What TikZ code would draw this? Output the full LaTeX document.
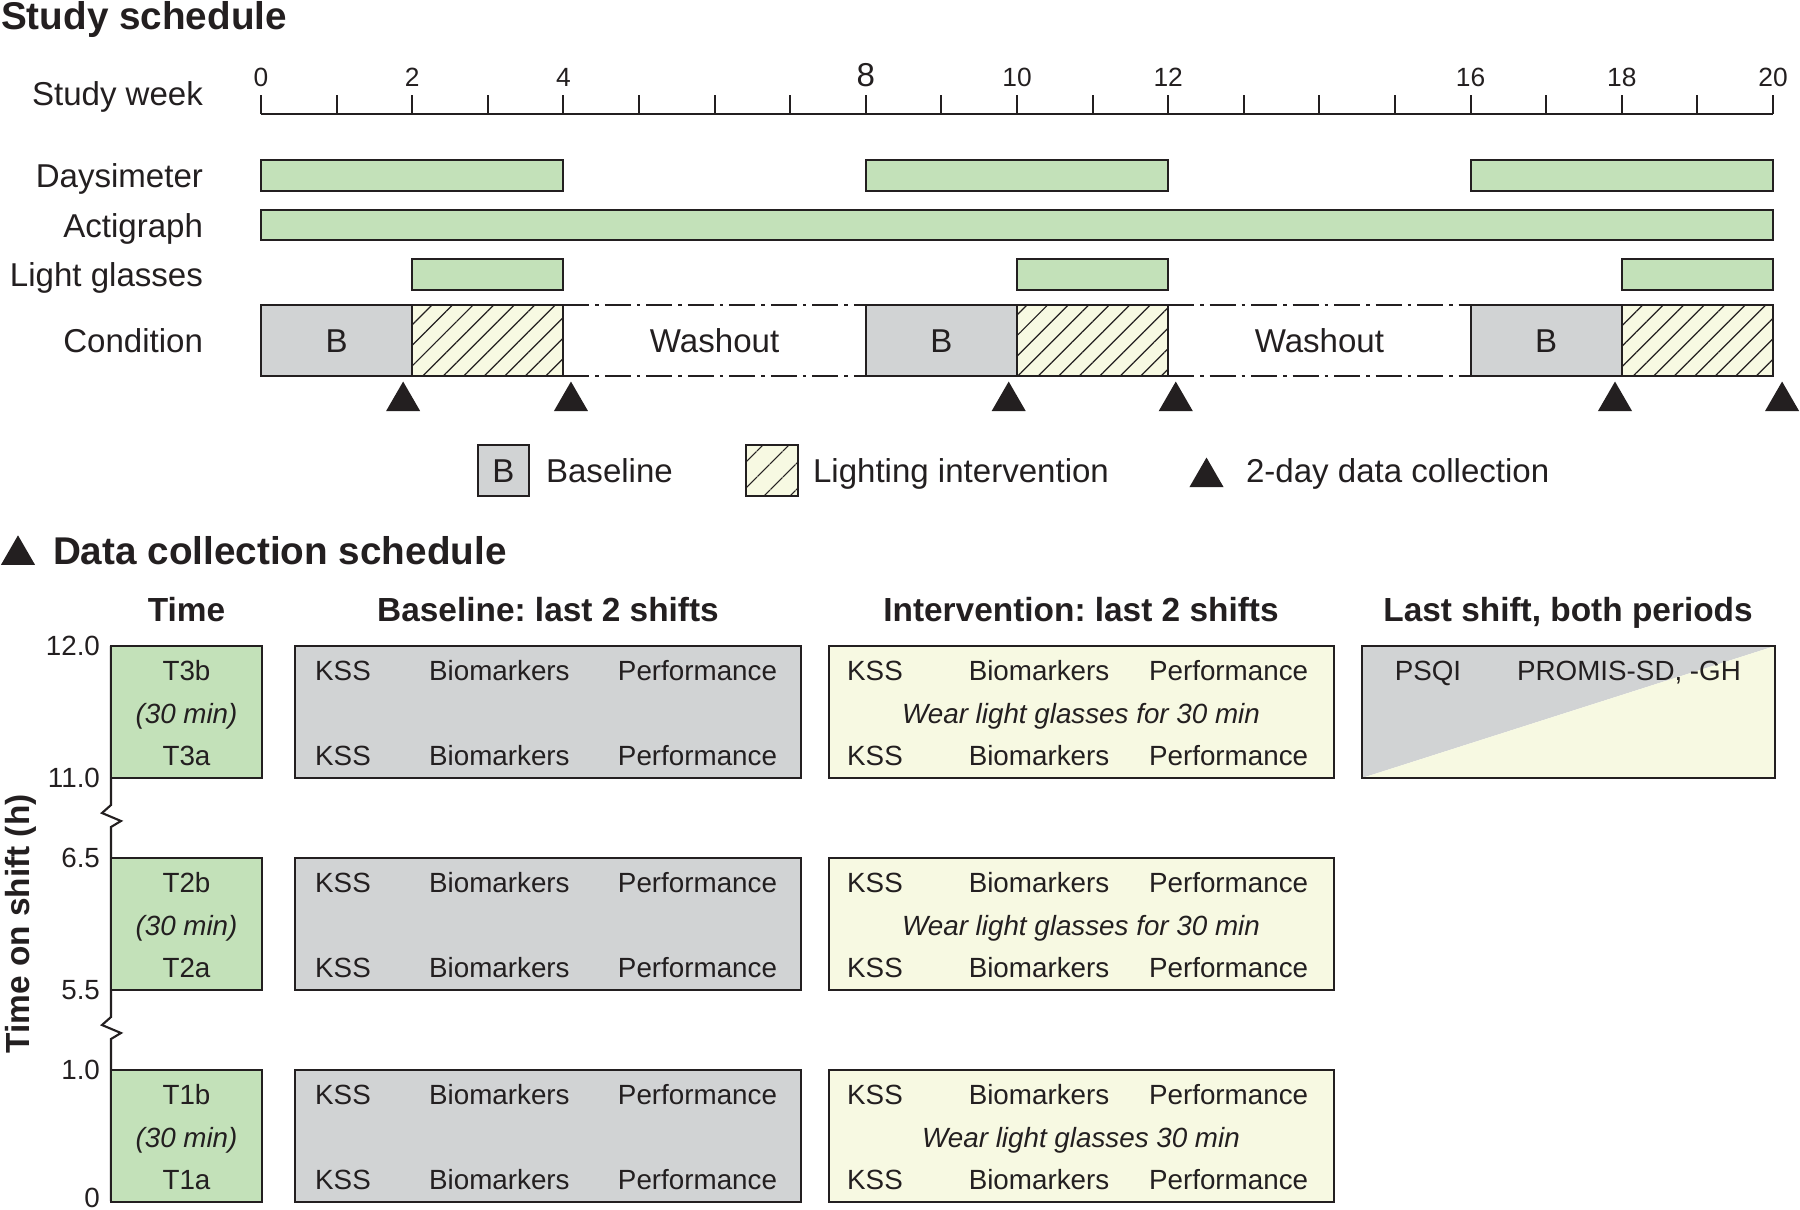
\documentclass[tikz,border=0pt]{standalone}
\usepackage{fontspec}
\setmainfont{Liberation Sans}
\usetikzlibrary{shapes.geometric, patterns.meta}
\definecolor{ink}{HTML}{231F20}
\definecolor{glassgreen}{HTML}{C3E1B9}
\definecolor{basegray}{HTML}{D1D3D4}
\definecolor{lightyellow}{HTML}{F7F9E2}
\pgfmathdeclarefunction{wk}{1}{\pgfmathparse{261+75.6*#1}}
\tikzset{
  lbl/.style={font=\fontsize{9.4}{11}\selectfont, inner sep=0pt},
  txt/.style={font=\fontsize{7.9}{9.5}\selectfont, inner sep=0pt},
  itxt/.style={font=\fontsize{7.9}{9.5}\selectfont\itshape, inner sep=0pt},
  weeknum/.style={font=\fontsize{7.5}{9}\selectfont, inner sep=0pt, anchor=base},
  hdr/.style={font=\bfseries\fontsize{9.5}{11}\selectfont, inner sep=0pt},
  ttl/.style={font=\bfseries\fontsize{11}{13}\selectfont, inner sep=0pt},
  bar/.style={draw=ink, fill=glassgreen},
  basebox/.style={draw=ink, fill=basegray},
  intbox/.style={draw=ink, fill=lightyellow},
  hatchbox/.style={draw=ink, fill=lightyellow,
    postaction={pattern={Lines[angle=45, distance=#1, line width=0.35pt]}, pattern color=ink}},
  hatchbox/.default=1.45mm,
  washline/.style={draw=ink, dash pattern=on 7.4pt off 1.7pt on 1pt off 1.7pt},
  datamark/.style={regular polygon, regular polygon sides=3, fill=ink, minimum size=0.393cm, inner sep=0pt, outer sep=0pt}
}

\begin{document}
\frenchspacing
\begin{tikzpicture}[x=0.01cm, y=-0.01cm, line width=0.6pt, color=ink]
\useasboundingbox (0,0) rectangle (1800,1209);

\node[ttl, anchor=base west] (title1) at (0,29) {Study schedule};
\node[lbl, anchor=base east] (weeklbl) at (204,105) {Study week};
\node[lbl, anchor=base east] (daylbl) at (204,187) {Daysimeter};
\node[lbl, anchor=base east] (actlbl) at (204,237) {Actigraph};
\node[lbl, anchor=base east] (glasslbl) at (204,286) {Light glasses};
\node[lbl, anchor=base east] (condlbl) at (204,352) {Condition};

\draw ({wk(0)},114) -- ({wk(20)},114);
\foreach \w in {0,...,20}
  \draw ({wk(\w)},95) -- ({wk(\w)},114);
\foreach \w in {0,2,4,10,12,16,18,20}
  \node[weeknum] (week\w) at ({wk(\w)},86.5) {\w};
\node[weeknum, font=\fontsize{9.4}{11}\selectfont] (week8) at ({wk(8)},86.5) {8};

\foreach \a/\b in {0/4,8/12,16/20}
  \draw[bar] ({wk(\a)},160) rectangle ({wk(\b)},191);
\draw[bar] ({wk(0)},210) rectangle ({wk(20)},240);
\foreach \a/\b in {2/4,10/12,18/20}
  \draw[bar] ({wk(\a)},259) rectangle ({wk(\b)},290);

\foreach \a/\b/\c [count=\i] in {0/2/4, 8/10/12, 16/18/20} {
  \draw[basebox] ({wk(\a)},305) rectangle ({wk(\b)},376);
  \draw[hatchbox] ({wk(\b)},305) rectangle ({wk(\c)},376);
  \node[lbl, anchor=base] (B\i) at ({wk(\a+1)},352) {B};
}
\foreach \a/\b [count=\i] in {4/8,12/16} {
  \draw[washline] ({wk(\a)},305) -- ({wk(\b)},305) ({wk(\a)},376) -- ({wk(\b)},376);
  \node[lbl, anchor=base] (wash\i) at ({wk(\a+2)},352) {Washout};
}
\foreach \w [count=\i] in {1.88,4.1,9.89,12.1,17.91,20.12}
  \node[datamark] (dc\i) at ({wk(\w)},401.2) {};

\draw[basebox] (478,445) rectangle (529,496);
\node[lbl, anchor=base] (legB) at (503.5,482) {B};
\node[lbl, anchor=base west] (legBtxt) at (545,482) {Baseline};
\draw[hatchbox=1.8mm] (746,445) rectangle (798,496);
\node[lbl, anchor=base west] (legHtxt) at (812,482) {Lighting intervention};
\node[datamark] (legD) at (1206.5,477.2) {};
\node[lbl, anchor=base west] (legDtxt) at (1245,482) {2-day data collection};

\node[datamark] (dcmark) at (18,555) {};
\node[ttl, anchor=base west] (title2) at (52,564) {Data collection schedule};
\node[hdr, anchor=base] (hTime) at (186.5,621) {Time};
\node[hdr, anchor=base] (hBase) at (548,621) {Baseline: last 2 shifts};
\node[hdr, anchor=base] (hInt) at (1081,621) {Intervention: last 2 shifts};
\node[hdr, anchor=base] (hLast) at (1568,621) {Last shift, both periods};
\node[hdr, rotate=90] (yttl) at (21,924) {Time on shift (h)};

\draw (111,646) -- (111,805) -- (102,813) -- (121,821) -- (111,827) -- (111,1017)
  -- (102,1025) -- (121,1033) -- (111,1039) -- (111,1201);

\foreach \r/\ty/\hi/\lo/\wear in {3/646/12.0/11.0/{Wear light glasses for 30 min},
    2/858/6.5/5.5/{Wear light glasses for 30 min}, 1/1070/1.0/0/{Wear light glasses 30 min}} {
  \draw[bar] (111,\ty) rectangle (262,\ty+132);
  \draw[basebox] (295,\ty) rectangle (801,\ty+132);
  \draw[intbox] (829,\ty) rectangle (1334,\ty+132);
  \node[txt, anchor=east] (hi\r) at (101,\ty) {\hi};
  \node[txt, anchor=east] (lo\r) at (101,{min(\ty+132,1198)}) {\lo};
  \foreach \dy/\s in {34/b,119/a} {
    \node[txt, anchor=base] (T\r\s) at (186.5,\ty+\dy) {T\r\s};
    \node[txt, anchor=base] (bkss\r\s) at (343,\ty+\dy) {KSS};
    \node[txt, anchor=base] (bbio\r\s) at (499.4,\ty+\dy) {Biomarkers};
    \node[txt, anchor=base] (bperf\r\s) at (697.5,\ty+\dy) {Performance};
    \node[txt, anchor=base] (ikss\r\s) at (875,\ty+\dy) {KSS};
    \node[txt, anchor=base] (ibio\r\s) at (1039,\ty+\dy) {Biomarkers};
    \node[txt, anchor=base] (iperf\r\s) at (1228.6,\ty+\dy) {Performance};
  }
  \node[itxt, anchor=base] (dur\r) at (186.5,\ty+77) {(30 min)};
  \node[itxt, anchor=base] (wear\r) at (1081,\ty+77) {\wear};
}

\fill[basegray] (1362,646) -- (1775,646) -- (1362,778) -- cycle;
\fill[lightyellow] (1775,646) -- (1775,778) -- (1362,778) -- cycle;
\draw (1362,646) rectangle (1775,778);
\node[txt, anchor=base] (psqi) at (1428,680) {PSQI};
\node[txt, anchor=base] (promis) at (1629,680) {PROMIS-SD, -GH};
\end{tikzpicture}
\end{document}
